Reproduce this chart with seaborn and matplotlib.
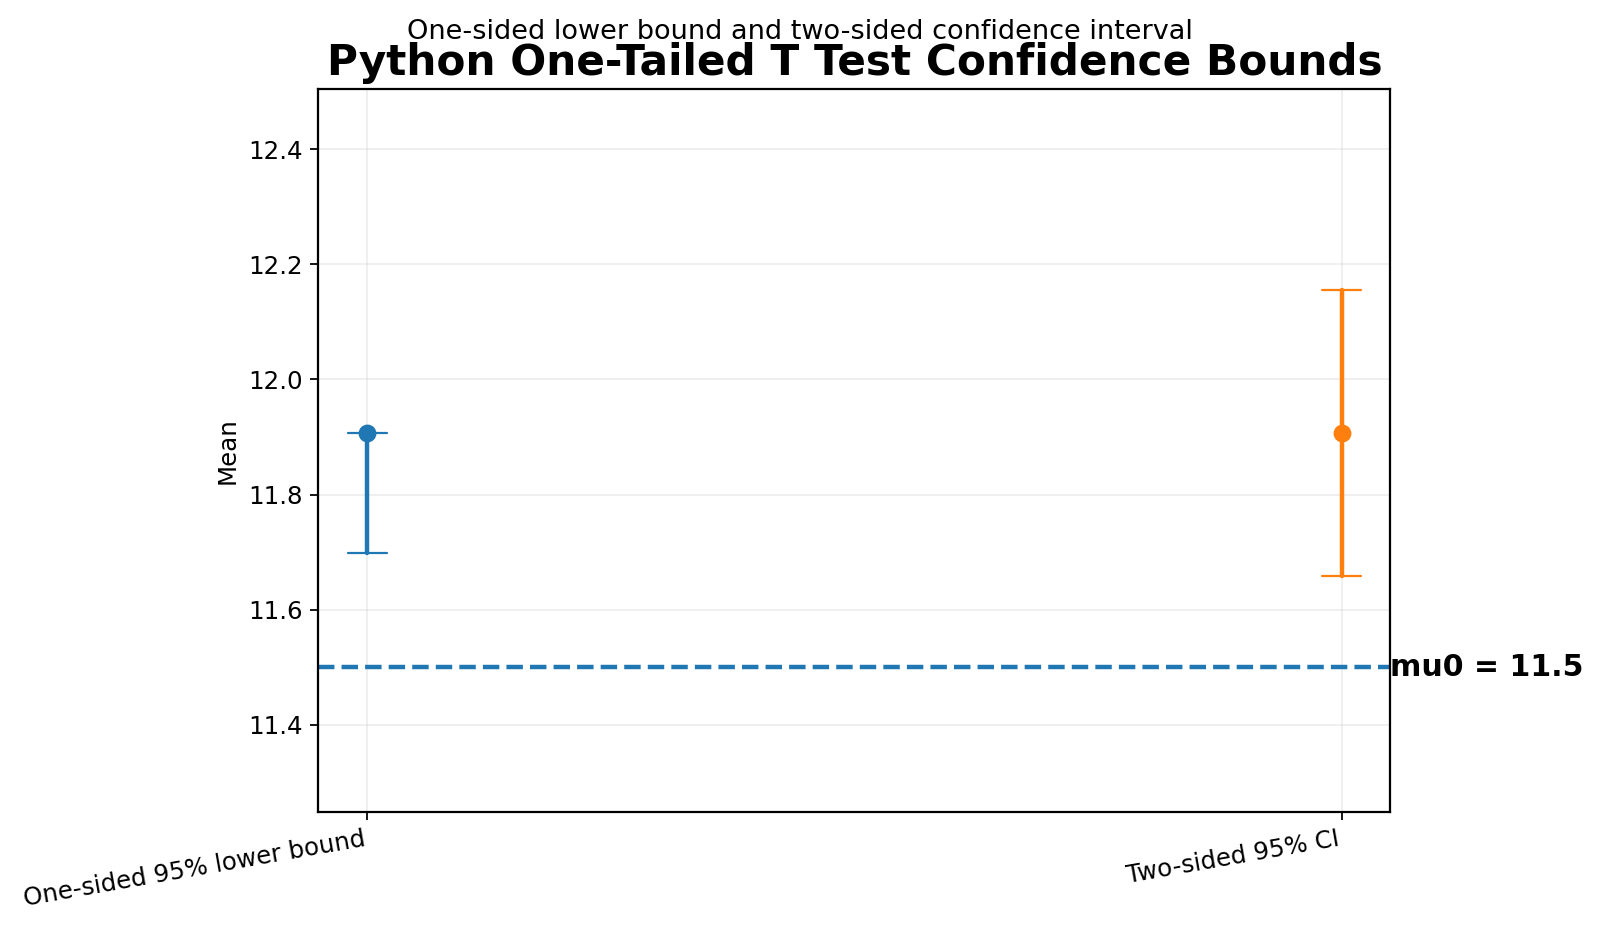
import numpy as np
import pandas as pd
import matplotlib
matplotlib.use("Agg")
import matplotlib.pyplot as plt
import seaborn as sns

sns.set_style("ticks", rc={"text.color": "black", "axes.labelcolor": "black",
                           "xtick.color": "black", "ytick.color": "black",
                           "axes.edgecolor": "black"})
plt.rcParams['font.family'] = ['DejaVu Sans']

# values
categories = ["One-sided 95% lower bound", "Two-sided 95% CI"]
means = [11.906, 11.906]
lower = [11.699, 11.658]
upper = [11.906, 12.156]
mu0 = 11.5
colors = ["#1f77b4", "#ff7f0e"]

# three rows per category: lower, mean, upper -> median is the mean, min/max the bounds
rows = []
for cat, lo, m, hi in zip(categories, lower, means, upper):
    for v in (lo, m, hi):
        rows.append({"interval": cat, "value": v})
df = pd.DataFrame(rows)

fig = plt.figure(figsize=(10, 5.83125), dpi=160)
fig.subplots_adjust(left=0.199, right=0.869, top=0.905, bottom=0.130)
ax = fig.add_subplot(111)

sns.pointplot(data=df, x="interval", y="value", hue="interval", palette=colors,
              estimator="median", errorbar=lambda v: (v.min(), v.max()),
              capsize=0.04, err_kws={"linewidth": 2}, linestyle="none",
              markersize=6, legend=False, ax=ax)

# thinner caps like plt.errorbar: split each seaborn error line into bar + caps
for line in list(ax.lines):
    x, y = line.get_data()
    x, y = np.asarray(x, float), np.asarray(y, float)
    if len(x) < 8:
        continue
    col = line.get_color()
    line.set_data(x[3:5], y[3:5])
    ax.plot(x[0:2], y[0:2], color=col, lw=1.0)
    ax.plot(x[6:8], y[6:8], color=col, lw=1.0)

ax.axhline(mu0, color="#1f77b4", linestyle="--", linewidth=2)
ax.text(1.0, mu0, f"mu0 = {mu0}", transform=ax.get_yaxis_transform(),
        ha="left", va="center", fontsize=13.5, fontweight="bold")

ax.set_xlim(-0.05, 1.05)
ax.set_ylim(11.249, 12.505)
ax.set_yticks([11.4, 11.6, 11.8, 12.0, 12.2, 12.4])
ax.set_xlabel("")
ax.set_ylabel("Mean", fontsize=11)
ax.tick_params(labelsize=11)
ax.grid(True, alpha=0.35)
plt.setp(ax.get_xticklabels(), rotation=10, ha="right")
for s in ax.spines.values():
    s.set_linewidth(1.0)

ax.set_title("Python One-Tailed T Test Confidence Bounds", fontsize=19, fontweight="bold")
fig.suptitle("One-sided lower bound and two-sided confidence interval", fontsize=12.2)

plt.savefig("out.png", dpi=160)
